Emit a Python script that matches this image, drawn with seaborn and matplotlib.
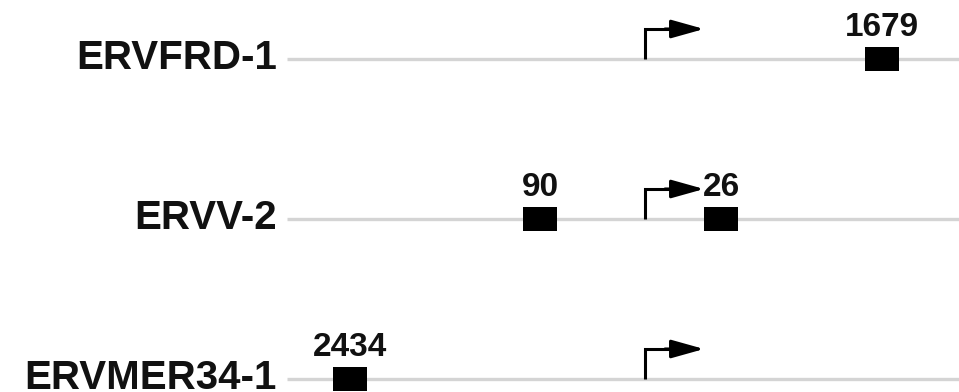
import matplotlib
matplotlib.use("Agg")
import matplotlib.pyplot as plt
from matplotlib.path import Path
import seaborn as sns
import pandas as pd

# ---- data ----
genes = ["ERVFRD-1", "ERVV-2", "ERVMER34-1"]
site_genes = ["ERVFRD-1", "ERVV-2", "ERVV-2", "ERVMER34-1"]
site_positions = [1185, -525, 380, -1475]      # bp relative to TSS
site_labels = ["1679", "90", "26", "2434"]
region_start = -1790
region_end = 1600
tss_position = 0
arrow_length = 295

sns.set_theme(style="white")
plt.rcParams["font.family"] = ["Liberation Sans", "DejaVu Sans"]

fig = plt.figure(figsize=(9.59, 3.92), dpi=100)
ax = fig.add_axes([0, 0, 1, 1])

ypos = {g: i for i, g in enumerate(genes)}
px = 5.0          # bp per pixel
unit = 160.0      # pixels per track

# tracks
for g in genes:
    ax.hlines(ypos[g], region_start, region_end, color="#d4d4d4", lw=2.4, zorder=1)
    ax.text(-1840, ypos[g] + 10 / unit, g, ha="right", va="baseline",
            fontsize=29, fontweight="bold", color="#111111")

# TSS arrows
for g in genes:
    y0 = ypos[g]
    ytop = y0 - 30 / unit
    ax.plot([tss_position, tss_position, tss_position + 150],
            [y0, ytop, ytop], color="black", lw=2.2, solid_capstyle="butt",
            solid_joinstyle="miter", zorder=3)
    ax.annotate("", xy=(tss_position + arrow_length, ytop),
                xytext=(tss_position + 100, ytop),
                arrowprops=dict(arrowstyle="-|>,head_length=1.0,head_width=0.28",
                                mutation_scale=20, color="black", lw=2.2,
                                shrinkA=0, shrinkB=0), zorder=3)

# binding sites as rectangles
df = pd.DataFrame({"gene": site_genes, "pos": site_positions, "label": site_labels})
df["y"] = df["gene"].map(ypos)
rect = Path([(-0.5, -0.36), (0.5, -0.36), (0.5, 0.36), (-0.5, 0.36), (-0.5, -0.36)],
            [Path.MOVETO, Path.LINETO, Path.LINETO, Path.LINETO, Path.CLOSEPOLY])
sns.scatterplot(data=df, x="pos", y="y", marker=rect, s=24.0 ** 2,
                color="black", edgecolor="none", linewidth=0, ax=ax, zorder=4,
                legend=False)
for _, r in df.iterrows():
    ax.text(r["pos"], r["y"] - 23 / unit, r["label"], ha="center", va="baseline",
            fontsize=24, fontweight="bold", color="#111111")

ax.set_xlim(-645 * px, (959 - 645) * px)
ax.set_ylim((392 - 59) / unit, -59 / unit)
ax.axis("off")

fig.savefig("out.png", dpi=100)
